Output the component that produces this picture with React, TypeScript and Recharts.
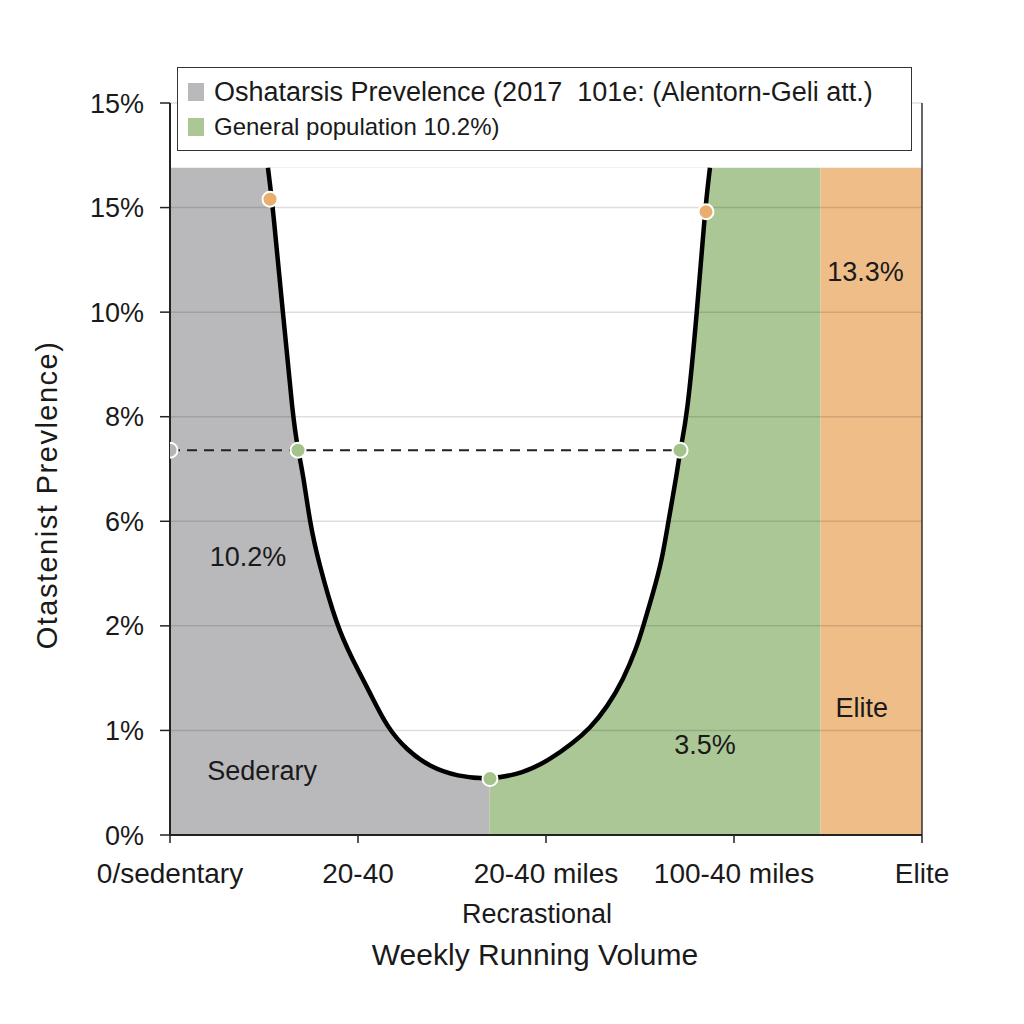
import {
  ComposedChart,
  Line,
  Area,
  Scatter,
  Cell,
  XAxis,
  YAxis,
  ReferenceArea,
  ReferenceLine,
  ReferenceDot,
} from "recharts";

const FONT = "'Liberation Sans', Arial, sans-serif";

// y axis is an ordinal-looking scale: tick index -> printed label
const yTicks = [0, 1, 2, 3, 4, 5, 6, 7];
const yLabels = ["0%", "1%", "2%", "6%", "8%", "10%", "15%", "15%"];

const xTicks = [0, 1, 2, 3, 4];
const xLabels = ["0/sedentary", "20-40", "20-40 miles", "100-40 miles", "Elite"];

// shaded bands
const bandEdges = [0, 1.7, 3.46, 4];
const bandColors = ["#b9b9bb", "#abc795", "#efbd88"];
const bandTop = 6.38;

// the U-shaped prevalence curve
const curveX = [
  0.521, 0.548, 0.601, 0.654, 0.681, 0.707, 0.745, 0.787, 0.888, 0.973, 1.064, 1.154, 1.261, 1.383, 1.527, 1.702,
  1.878, 2.021, 2.144, 2.234, 2.324, 2.41, 2.484, 2.516, 2.569, 2.617, 2.649, 2.697, 2.713, 2.75, 2.803, 2.846, 2.872,
];
const curveY = [
  6.38, 5.99, 4.99, 3.99, 3.68, 3.46, 2.98, 2.63, 1.99, 1.67, 1.36, 1.03, 0.81, 0.65, 0.56, 0.53,
  0.59, 0.72, 0.88, 1.02, 1.22, 1.48, 1.8, 1.99, 2.31, 2.63, 2.98, 3.46, 3.68, 3.99, 4.99, 5.99, 6.38,
];

// general population reference (dashed)
const refLevel = 3.68;
const refX = [0, 2.713];

const dotX = [0, 0.681, 2.713, 0.532, 2.851, 1.702];
const dotY = [3.68, 3.68, 3.68, 6.08, 5.96, 0.54];
const dotColors = ["#b4b4b7", "#a3c38b", "#a3c38b", "#e9ad6e", "#e9ad6e", "#a3c38b"];

const notes = [
  { x: 0.415, y: 2.66, text: "10.2%" },
  { x: 0.49, y: 0.62, text: "Sederary" },
  { x: 2.846, y: 0.87, text: "3.5%" },
  { x: 3.68, y: 1.22, text: "Elite" },
  { x: 3.7, y: 5.39, text: "13.3%" },
];

const curve = curveX.map((x, i) => ({ x, y: curveY[i], gap: [curveY[i], bandTop] }));
const refData = refX.map((x) => ({ x, y: refLevel }));
const dots = dotX.map((x, i) => ({ x, y: dotY[i] }));

function LegendBox() {
  const row = { display: "flex", alignItems: "center", gap: 10, whiteSpace: "nowrap" } as const;
  return (
    <div
      style={{
        position: "absolute",
        left: 177,
        top: 67,
        border: "1.5px solid #333",
        background: "#fff",
        padding: "8px 10px 0 10px",
        fontFamily: FONT,
        color: "#1a1a1a",
        boxSizing: "border-box",
        width: 735,
        height: 84,
      }}
    >
      <div style={{ ...row, fontSize: 27, height: 32 }}>
        <span style={{ width: 16, height: 18, background: bandColors[0], display: "inline-block" }} />
        <span>Oshatarsis Prevelence (2017&nbsp; 101e: (Alentorn-Geli att.)</span>
      </div>
      <div style={{ ...row, fontSize: 24, height: 32, marginTop: 3 }}>
        <span style={{ width: 16, height: 18, background: bandColors[1], display: "inline-block" }} />
        <span>General population 10.2%)</span>
      </div>
    </div>
  );
}

export default function App() {
  return (
    <div style={{ position: "absolute", left: 0, top: 0, width: 1024, height: 1024, background: "#fff" }}>
      <ComposedChart
        width={1024}
        height={1024}
        margin={{ top: 103, right: 102, bottom: 129, left: 90 }}
        style={{ fontFamily: FONT }}
      >
        <XAxis
          dataKey="x"
          type="number"
          domain={[0, 4]}
          ticks={xTicks}
          tickFormatter={(v: number) => xLabels[v]}
          tick={{ fontSize: 28, fill: "#1a1a1a" }}
          axisLine={{ stroke: "#222", strokeWidth: 2 }}
          tickLine={{ stroke: "#222", strokeWidth: 1.5 }}
          tickSize={8}
          tickMargin={20}
          height={60}
          interval={0}
          allowDataOverflow
          label={{
            content: () => (
              <g style={{ fontFamily: FONT }}>
                <text x={537} y={923} textAnchor="middle" fontSize={27} fill="#1a1a1a">Recrastional</text>
                <text x={535} y={965} textAnchor="middle" fontSize={30} fill="#1a1a1a">Weekly Running Volume</text>
              </g>
            ),
          }}
        />
        <YAxis
          type="number"
          domain={[0, 7]}
          ticks={yTicks}
          tickFormatter={(v: number) => yLabels[v]}
          tick={{ fontSize: 27, fill: "#1a1a1a" }}
          axisLine={{ stroke: "#222", strokeWidth: 2 }}
          tickLine={{ stroke: "#222", strokeWidth: 1.5 }}
          tickSize={10}
          tickMargin={16}
          width={80}
          interval={0}
          allowDataOverflow
          label={{
            content: () => (
              <text
                x={0}
                y={0}
                transform="translate(57 495) rotate(-90)"
                textAnchor="middle"
                fontSize={29}
                letterSpacing={1.5}
                fill="#1a1a1a"
                style={{ fontFamily: FONT }}
              >
                Otastenist Prevlence)
              </text>
            ),
          }}
        />
        {bandColors.map((c, i) => (
          <ReferenceArea
            key={c}
            x1={bandEdges[i]}
            x2={bandEdges[i + 1]}
            y1={0}
            y2={bandTop}
            fill={c}
            fillOpacity={1}
            stroke="none"
          />
        ))}
        <Area
          data={curve}
          dataKey="gap"
          type="basis"
          fill="#fff"
          fillOpacity={1}
          stroke="none"
          isAnimationActive={false}
          legendType="none"
        />
        {yTicks.slice(1).map((t) => (
          <ReferenceLine key={t} y={t} stroke="rgba(0,0,0,0.13)" strokeWidth={1.5} />
        ))}
        <ReferenceLine x={4} stroke="#333" strokeWidth={1.5} />
        <Line
          data={refData}
          dataKey="y"
          stroke="#222"
          strokeWidth={2}
          strokeDasharray="10 7"
          dot={false}
          isAnimationActive={false}
          legendType="none"
        />
        <Line
          data={curve}
          dataKey="y"
          type="basis"
          stroke="#000"
          strokeWidth={4.5}
          dot={false}
          isAnimationActive={false}
          legendType="none"
        />
        <Scatter
          data={dots}
          dataKey="y"
          isAnimationActive={false}
          legendType="none"
          shape={(p: any) => <circle cx={p.cx} cy={p.cy} r={7.5} fill={p.fill} stroke="#fff" strokeWidth={2} />}
        >
          {dots.map((_, i) => (
            <Cell key={i} fill={dotColors[i]} />
          ))}
        </Scatter>
        {notes.map((n) => (
          <ReferenceDot
            key={n.text}
            x={n.x}
            y={n.y}
            r={0}
            stroke="none"
            label={{ value: n.text, position: "center", fontSize: 27, fill: "#1a1a1a" }}
          />
        ))}
      </ComposedChart>
      <LegendBox />
    </div>
  );
}
